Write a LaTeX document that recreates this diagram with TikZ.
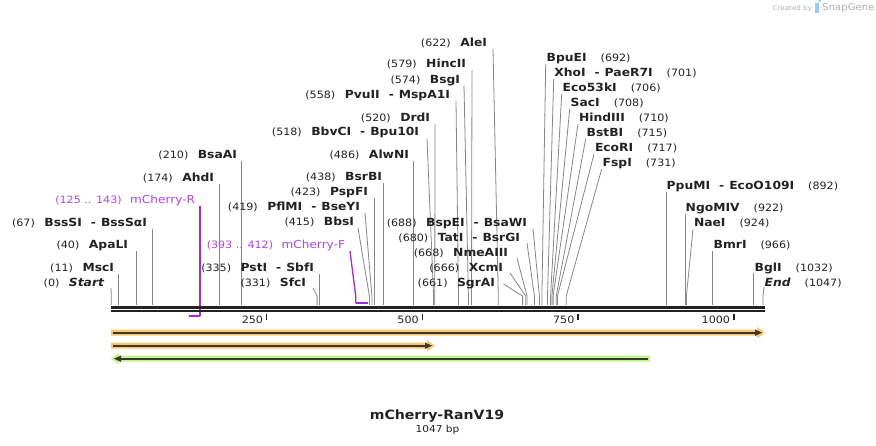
\documentclass[tikz,border=0pt]{standalone}
\usepackage{fontspec}
\setmainfont{DejaVu Sans}[FakeStretch=1.1]
\definecolor{cutc}{RGB}{135,135,135}
\definecolor{seqc}{RGB}{34,34,34}
\definecolor{primc}{RGB}{160,40,235}
\definecolor{primt}{RGB}{175,70,240}
\definecolor{orgc}{RGB}{250,200,112}
\definecolor{grnc}{RGB}{190,245,140}
\definecolor{featc}{RGB}{60,56,48}
\definecolor{logoc}{RGB}{175,175,175}
\definecolor{logob}{RGB}{150,205,240}
\newcommand\numf{\fontsize{10.1}{12}\selectfont\mdseries}
\newcommand\namef{\fontsize{11.2}{13}\selectfont\bfseries}
\newcommand\NB[1]{{\numf #1}}
\newcommand\NM[1]{{\namef #1}}
\newcommand\EDASH{\hspace{9pt}-\hspace{5pt}}
\newcommand\LL[2]{\NB{#1}\hspace{9.5pt}\NM{#2}}
\newcommand\RL[2]{\NM{#1}\hspace{14pt}\NB{#2}}
% id, anchor, label, label x, baseline y, start x, start y, site x
\newcommand\SITE[8]{%
  \node[lbl,anchor=base #2] (L#1) at (#4,#5) {#3};
  \coordinate (A#1) at (#6,#7);
  \coordinate (K#1) at (#8,296);
  \coordinate (S#1) at (#8,305);
  \draw[cutline] (A#1) -- (K#1) -- (S#1);}
\begin{document}
\begin{tikzpicture}[x=1pt,y=-1pt,
  lbl/.style={inner sep=0pt,outer sep=0pt,text=seqc},
  cutline/.style={draw=cutc,line width=0.8pt},
  primer/.style={draw=primc,line width=1.4pt},
  seqline/.style={draw=seqc},
  tickmark/.style={draw=seqc,line width=1.6pt},
  ticklbl/.style={inner sep=0pt,text=seqc,font=\numf}]
\useasboundingbox (0,0) rectangle (876,445);
\fill[white] (0,0) rectangle (876,445);

% left group
\SITE{1}{east}{\LL{(0)}{\itshape Start}}{104}{286}{111}{288}{111.3}
\SITE{2}{east}{\LL{(11)}{MscI}}{114}{271}{117.9}{274}{117.9}
\SITE{3}{east}{\LL{(40)}{ApaLI}}{128}{248}{135.9}{251}{135.9}
\SITE{4}{east}{\LL{(67)}{BssSI\EDASH BssSαI}}{147}{226}{152.7}{229}{152.7}
\SITE{6}{east}{\LL{(174)}{AhdI}}{214}{181}{219.4}{184}{219.4}
\SITE{7}{east}{\LL{(210)}{BsaAI}}{237}{158}{241.8}{161}{241.8}
% middle group
\SITE{8}{east}{\LL{(335)}{PstI\EDASH SbfI}}{314}{271}{319.6}{274}{319.6}
\SITE{9}{east}{\LL{(331)}{SfcI}}{306}{286}{313}{288}{317.1}
\SITE{11}{east}{\LL{(415)}{BbsI}}{354}{225}{358}{228}{369.4}
\SITE{12}{east}{\LL{(419)}{PflMI\EDASH BseYI}}{360}{210}{365}{213}{371.9}
\SITE{13}{east}{\LL{(423)}{PspFI}}{368}{195}{374.4}{198}{374.4}
\SITE{14}{east}{\LL{(438)}{BsrBI}}{382}{180}{383.7}{183}{383.7}
\SITE{15}{east}{\LL{(486)}{AlwNI}}{409}{158}{413.6}{161}{413.6}
\SITE{16}{east}{\LL{(518)}{BbvCI\EDASH Bpu10I}}{419}{135}{427}{139}{433.6}
\SITE{17}{east}{\LL{(520)}{DrdI}}{430}{121}{435}{124}{434.8}
\SITE{18}{east}{\LL{(558)}{PvuII\EDASH MspA1I}}{450}{98}{456}{101}{458.5}
\SITE{19}{east}{\LL{(574)}{BsgI}}{460}{83}{464}{86}{468.4}
\SITE{20}{east}{\LL{(579)}{HincII}}{466}{67}{472}{70}{471.5}
\SITE{21}{east}{\LL{(622)}{AleI}}{487}{46}{493}{49}{498.3}
\SITE{22}{east}{\LL{(688)}{BspEI\EDASH BsaWI}}{527}{226}{533}{229}{539.4}
\SITE{23}{east}{\LL{(680)}{TatI\EDASH BsrGI}}{520}{241}{527}{243}{534.4}
\SITE{24}{east}{\LL{(668)}{NmeAIII}}{508}{256}{517}{258}{527}
\SITE{25}{east}{\LL{(666)}{XcmI}}{503}{271}{510}{273}{525.7}
\SITE{26}{east}{\LL{(661)}{SgrAI}}{495}{286}{503.5}{284}{522.6}
% right group
\SITE{27}{west}{\RL{BpuEI}{(692)}}{546.7}{61}{545.7}{64}{541.9}
\SITE{28}{west}{\RL{XhoI\EDASH PaeR7I}{(701)}}{554.3}{76}{553.7}{79}{547.5}
\SITE{29}{west}{\RL{Eco53kI}{(706)}}{562.7}{91}{561.7}{94}{550.6}
\SITE{30}{west}{\RL{SacI}{(708)}}{570.7}{106}{569.7}{109}{551.9}
\SITE{31}{west}{\RL{HindIII}{(710)}}{579}{121}{578}{124}{553.1}
\SITE{32}{west}{\RL{BstBI}{(715)}}{586.7}{136}{585.7}{139}{556.2}
\SITE{33}{west}{\RL{EcoRI}{(717)}}{595}{151}{594}{154}{557.5}
\SITE{34}{west}{\RL{FspI}{(731)}}{602.7}{166}{601.7}{169}{566.2}
\SITE{35}{west}{\RL{PpuMI\EDASH EcoO109I}{(892)}}{666.7}{189}{666.4}{192}{666.4}
\SITE{36}{west}{\RL{NgoMIV}{(922)}}{685.7}{211}{685.1}{214}{685.1}
\SITE{37}{west}{\RL{NaeI}{(924)}}{694}{226}{693}{229}{686.4}
\SITE{38}{west}{\RL{BmrI}{(966)}}{713.7}{248}{712.5}{251}{712.5}
\SITE{39}{west}{\RL{BglI}{(1032)}}{754.7}{271}{753.6}{273}{753.6}
\SITE{40}{west}{\RL{\itshape End}{(1047)}}{764.7}{286}{764}{287}{763}

% primers
\node[lbl,anchor=base east,text=primt] (PR) at (195,203) {\NB{(125 .. 143)}\hspace{8.5pt}{\fontsize{11}{13}\selectfont mCherry-R}};
\coordinate (PRa) at (200,206);
\coordinate (PRb) at (200,316);
\coordinate (PRc) at (188.8,316);
\draw[primer,line width=1.3pt] (PRa) -- (PRb);
\draw[primer,line width=2pt] (PRb) -- (PRc);
\node[lbl,anchor=base east,text=primt] (PF) at (345,248) {\NB{(393 .. 412)}\hspace{8.5pt}{\fontsize{11}{13}\selectfont mCherry-F}};
\coordinate (PFa) at (350,251);
\coordinate (PFb) at (355.7,296);
\coordinate (PFc) at (355.7,303.3);
\coordinate (PFd) at (367.5,303.3);
\draw[primer,line width=1.3pt] (PFa) -- (PFb) -- (PFc);
\draw[primer,line width=2pt] (PFc) -- (PFd);

% sequence
\draw[seqline,line width=2.7pt] (111,307.3) -- (765,307.3);
\draw[seqline,line width=2pt] (111,311.3) -- (765,311.3);
\foreach \p/\i in {250/a,500/b,750/c,1000/d}{
  \pgfmathsetmacro\xx{111+0.6227*\p}
  \draw[tickmark] (\xx,313.5) -- (\xx,319.5);
  \node[ticklbl,anchor=base east] (T\i) at (\xx-3.5,323) {\p};
}

% features
\fill[orgc] (111,329.7) -- (757,329.7) -- (757,327) -- (765,332.7) -- (757,338.4) -- (757,335.7) -- (111,335.7) -- cycle;
\draw[featc,line width=1.6pt] (113,332.7) -- (756,332.7);
\fill[featc] (755,329.5) -- (762,332.7) -- (755,335.9) -- cycle;

\fill[orgc] (111,342.7) -- (427,342.7) -- (427,340) -- (435,345.7) -- (427,351.4) -- (427,348.7) -- (111,348.7) -- cycle;
\draw[featc,line width=1.6pt] (113,345.7) -- (426,345.7);
\fill[featc] (425,342.5) -- (432,345.7) -- (425,348.9) -- cycle;

\fill[grnc] (650,355.7) -- (119,355.7) -- (119,353) -- (111,358.7) -- (119,364.4) -- (119,361.7) -- (650,361.7) -- cycle;
\draw[featc,line width=1.6pt] (648,358.7) -- (120,358.7);
\fill[featc] (121,355.5) -- (114,358.7) -- (121,361.9) -- cycle;

% title
\node[lbl,anchor=base] (title) at (437,419) {\fontsize{12.8}{15}\selectfont\bfseries mCherry-RanV19};
\node[lbl,anchor=base] (len) at (437.5,432) {\fontsize{9.6}{11}\selectfont 1047 bp};

% logo
\node[lbl,anchor=base east,text=logoc] (cb) at (812,10) {\fontsize{6.5}{8}\selectfont Created by};
\fill[logob] (815,2.5) rectangle (818.5,12.5);
\fill[logob] (818.5,2.5) arc (90:-90:2.6);
\node[lbl,anchor=base west,text=logoc] (sg) at (822,10.5) {\fontsize{9.3}{10}\selectfont SnapGene};
\end{tikzpicture}
\end{document}
